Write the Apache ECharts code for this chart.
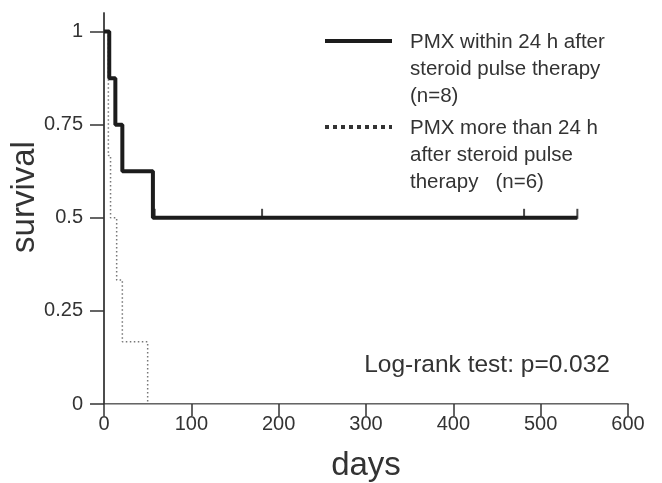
<!DOCTYPE html>
<html>
<head>
<meta charset="utf-8">
<script src="https://cdn.jsdelivr.net/npm/echarts@6/dist/echarts.min.js"></script>
<style>
  html, body { margin: 0; padding: 0; background: #fff; }
  #chart { width: 662px; height: 483px; }
</style>
</head>
<body>
<div id="chart"></div>
<script>
// Kaplan–Meier survival steps (days, survival)
const earlyDays = [0, 6, 13, 21, 56, 542];
const earlySurvival = [1, 0.875, 0.75, 0.625, 0.5, 0.5];
const earlyCensorDays = [58, 181, 481, 542];
const earlyCensorSurvival = [0.5, 0.5, 0.5, 0.5];

const lateDays = [0, 5, 7.5, 14.5, 21, 50];
const lateSurvival = [1, 0.667, 0.5, 0.333, 0.167, 0];

const xTicks = [0, 100, 200, 300, 400, 500, 600];
const yTicks = [0, 0.25, 0.5, 0.75, 1];

const xTitle = 'days';
const yTitle = 'survival';
const legendEarly = ['PMX within 24 h after', 'steroid pulse therapy', '(n=8)'];
const legendLate = ['PMX more than 24 h', 'after steroid pulse', 'therapy   (n=6)'];
const testLabel = 'Log-rank test: p=0.032';

const FONT = '"Liberation Sans", Arial, sans-serif';
const TEXT = '#333';

const zip = (xs, ys) => xs.map((x, i) => [x, ys[i]]);

const chart = echarts.init(document.getElementById('chart'), null, { renderer: 'canvas' });

chart.setOption({
  animation: false,
  backgroundColor: '#fff',
  grid: { left: 104, right: 34, top: 13, bottom: 79, outerBoundsMode: 'none', containLabel: false },
  xAxis: [{
    type: 'value', min: 0, max: 600, interval: 100,
    name: xTitle, nameLocation: 'middle', nameGap: 45,
    nameTextStyle: { fontFamily: FONT, fontSize: 33, color: TEXT },
    axisLine: { show: true, lineStyle: { color: '#333', width: 1.5 } },
    axisTick: { show: true, inside: false, length: 12, customValues: xTicks, lineStyle: { color: '#333', width: 1.5 } },
    axisLabel: { fontFamily: FONT, fontSize: 20, color: TEXT, margin: 10, customValues: xTicks },
    splitLine: { show: false }
  }, {
    type: 'value', min: 0, max: 600, position: 'top',
    axisLine: { show: true, lineStyle: { color: '#aaa', width: 1 } },
    axisTick: { show: false }, axisLabel: { show: false }, splitLine: { show: false }
  }],
  yAxis: [{
    type: 'value', min: 0, max: 1.05,
    axisLine: { show: true, lineStyle: { color: '#333', width: 1.5 } },
    axisTick: { show: true, inside: false, length: 14, customValues: yTicks, lineStyle: { color: '#333', width: 1.5 } },
    axisLabel: { fontFamily: FONT, fontSize: 20, color: TEXT, margin: 21, customValues: yTicks },
    splitLine: { show: false }
  }, {
    type: 'value', min: 0, max: 1.05, position: 'right',
    axisLine: { show: true, lineStyle: { color: '#444', width: 1.5 } },
    axisTick: { show: false }, axisLabel: { show: false }, splitLine: { show: false }
  }],
  series: [{
    name: 'late', type: 'line', step: 'end', symbol: 'none',
    data: zip(lateDays, lateSurvival),
    lineStyle: { color: '#777', width: 1.5, type: [1.5, 2.5] },
    z: 2
  }, {
    name: 'early', type: 'line', step: 'end', symbol: 'none',
    data: zip(earlyDays, earlySurvival),
    lineStyle: { color: '#1c1c1c', width: 4 },
    z: 3
  }, {
    name: 'early censored', type: 'scatter',
    data: zip(earlyCensorDays, earlyCensorSurvival),
    symbol: 'rect', symbolSize: [2, 10], symbolOffset: [0, -4],
    itemStyle: { color: '#1c1c1c' },
    z: 4
  }],
  graphic: [
    // y-axis title, rotated
    { type: 'text', x: 25, y: 197, rotation: Math.PI / 2,
      style: { text: yTitle, font: '33px ' + FONT, fill: TEXT, textAlign: 'center', textVerticalAlign: 'middle' } },
    // legend keys
    { type: 'line', shape: { x1: 325, y1: 41, x2: 392, y2: 41 },
      style: { stroke: '#1c1c1c', lineWidth: 4 } },
    { type: 'line', shape: { x1: 325, y1: 127, x2: 392, y2: 127 },
      style: { stroke: '#333', lineWidth: 4, lineDash: [4, 4] } },
    { type: 'text', left: 410, top: 29,
      style: { text: legendEarly.join('\n'), font: '20.5px ' + FONT, fill: TEXT, lineHeight: 27 } },
    { type: 'text', left: 410, top: 115,
      style: { text: legendLate.join('\n'), font: '20.5px ' + FONT, fill: TEXT, lineHeight: 27 } },
    { type: 'text', right: 52, top: 353,
      style: { text: testLabel, font: '24.5px ' + FONT, fill: TEXT } }
  ]
});
</script>
</body>
</html>
